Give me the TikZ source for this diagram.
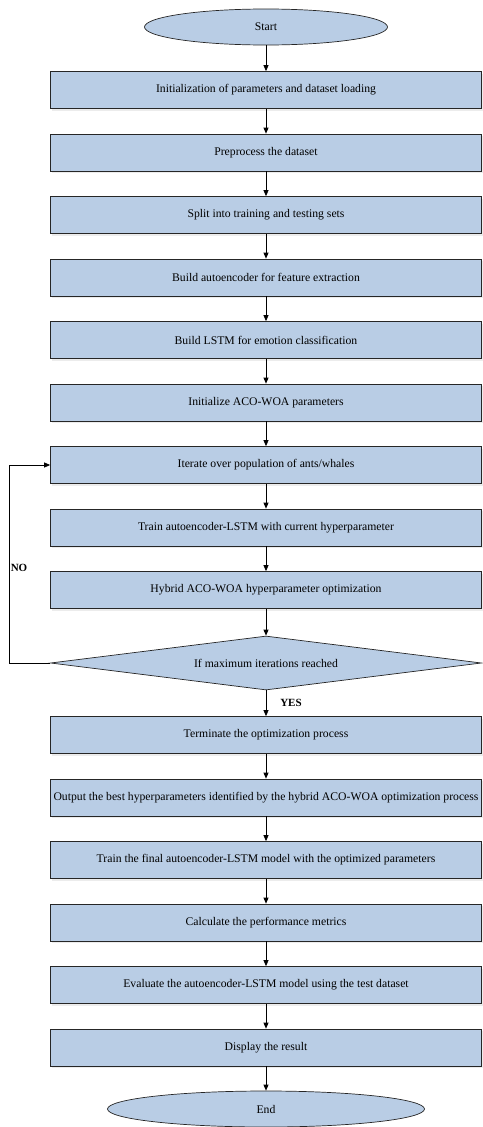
\documentclass[tikz,border=0pt]{standalone}
\usepackage{fontspec}
\setmainfont{Liberation Serif}
\usetikzlibrary{shapes.geometric,arrows.meta,shadows}
\definecolor{boxblue}{RGB}{185,205,229}

\begin{document}
\begin{tikzpicture}[x=1pt,y=-1pt,
	txt/.style={font=\fontsize{11.7}{13}\selectfont},
	box/.style={txt, draw=black!85, fill=boxblue, line width=0.7pt, minimum width=431pt, minimum height=37pt, inner sep=0pt,
		drop shadow={shadow xshift=1pt, shadow yshift=-2pt, opacity=0.15}},
	term/.style={txt, ellipse, draw=black!85, fill=boxblue, line width=0.7pt, inner sep=0pt, minimum height=36pt},
	decide/.style={txt, diamond, draw=black!85, fill=boxblue, line width=0.7pt, inner sep=0pt, minimum width=431pt, minimum height=54pt, aspect=8},
	lbl/.style={font=\fontsize{11}{13}\selectfont\bfseries},
	pile/.style={-{Triangle[length=6pt,width=5pt]}, line width=0.7pt}]

	\useasboundingbox (0,0) rectangle (482,1127);

	% Start and end
	\node [term, minimum width=243pt] (start) at (266,27) {Start};
	\node [term, minimum width=317pt] (stop) at (266,1109) {End};

	% Setup steps
	\node [box] (init) at (266,90) {Initialization of parameters and dataset loading};
	\node [box] (prep) at (266,152.5) {Preprocess the dataset};
	\node [box] (split) at (266,215) {Split into training and testing sets};
	\node [box] (auto) at (266,277.5) {Build autoencoder for feature extraction};
	\node [box] (lstm) at (266,340) {Build LSTM for emotion classification};
	\node [box] (acowoa) at (266,402.5) {Initialize ACO-WOA parameters};

	% Optimization loop
	\node [box] (iter) at (266,465) {Iterate over population of ants/whales};
	\node [box] (train) at (266,527.5) {Train autoencoder-LSTM with current hyperparameter};
	\node [box] (hybrid) at (266,590) {Hybrid ACO-WOA hyperparameter optimization};
	\node [decide] (maxit) at (266,663) {If maximum iterations reached};

	% Final steps
	\node [box] (term) at (266,735) {Terminate the optimization process};
	\node [box] (best) at (266,797.5) {Output the best hyperparameters identified by the hybrid ACO-WOA optimization process};
	\node [box] (final) at (266,860) {Train the final autoencoder-LSTM model with the optimized parameters};
	\node [box] (metric) at (266,922.5) {Calculate the performance metrics};
	\node [box] (eval) at (266,985) {Evaluate the autoencoder-LSTM model using the test dataset};
	\node [box] (show) at (266,1047.5) {Display the result};

	% Arrows
	\draw [pile] (start) -- (init);
	\draw [pile] (init) -- (prep);
	\draw [pile] (prep) -- (split);
	\draw [pile] (split) -- (auto);
	\draw [pile] (auto) -- (lstm);
	\draw [pile] (lstm) -- (acowoa);
	\draw [pile] (acowoa) -- (iter);
	\draw [pile] (iter) -- (train);
	\draw [pile] (train) -- (hybrid);
	\draw [pile] (hybrid) -- (maxit);
	\draw [pile] (maxit) -- (term);
	\draw [pile] (term) -- (best);
	\draw [pile] (best) -- (final);
	\draw [pile] (final) -- (metric);
	\draw [pile] (metric) -- (eval);
	\draw [pile] (eval) -- (show);
	\draw [pile] (show) -- (stop);

	% Loop back
	\draw [pile] (maxit.west) -- ++(-41,0) |- (iter.west);
	\node [lbl] (no) at (19,568) {NO};
	\node [lbl] (yes) at (291,703) {YES};

\end{tikzpicture}
\end{document}
